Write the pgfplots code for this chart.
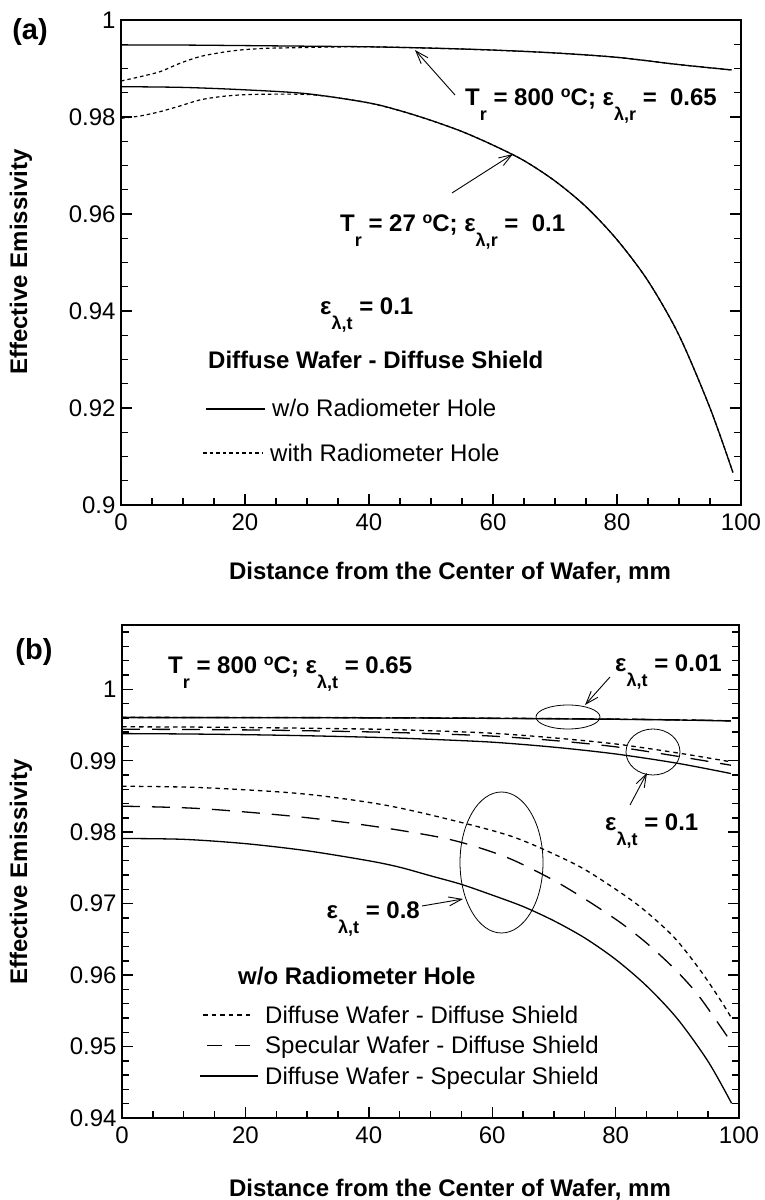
\documentclass[border=0pt]{standalone}
\usepackage{fontspec}
\setmainfont{Liberation Sans}
\usepackage{pgfplots}
\pgfplotsset{compat=1.18}
\usetikzlibrary{arrows.meta}
\newcommand{\sbx}[1]{\raisebox{-15pt}{\fontsize{18}{18}\selectfont #1}}
\newcommand{\dg}{\raisebox{8pt}{\fontsize{16}{16}\selectfont o}}
\pgfplotsset{panel/.style={
  scale only axis, xmin=0, xmax=100,
  xtick={0,20,40,60,80,100}, xticklabels={0,20,40,60,80,100},
  minor x tick num=3, tick align=inside,
  xtick pos=lower, xticklabel pos=lower, ytick pos=both, yticklabel pos=lower,
  major tick length=11pt, minor tick length=7pt,
  axis line style={line width=1.8pt},
  every tick/.style={black, line width=1.4pt},
  tick label style={font=\fontsize{24}{24}\selectfont},
  xticklabel style={yshift=-5pt}, yticklabel style={xshift=-2pt},
  scaled y ticks=false,
  every axis plot/.append style={smooth, tension=0.5},
  }}
\begin{document}
\begin{tikzpicture}
\useasboundingbox (0pt,0pt) rectangle (764pt,1200pt);
% ---------------- panel (a)
\begin{axis}[panel, at={(121pt,695pt)}, anchor=south west, width=620pt, height=485pt,
  ymin=0.9, ymax=1,
  ytick={0.9,0.92,0.94,0.96,0.98,1}, yticklabels={0.9,0.92,0.94,0.96,0.98,1},
  minor y tick num=3]
% T_r = 800 C, w/o hole
\addplot[black, line width=1.3pt] coordinates {
 (0,0.99485) (10,0.99483) (20,0.99472) (30,0.99460) (40,0.99447) (50,0.99420)
 (60,0.99380) (70,0.99320) (80,0.99230) (90,0.99080) (98.5,0.98970)};
% T_r = 800 C, with hole
\addplot[black, line width=1.2pt, dash pattern=on 3.5pt off 3pt] coordinates {
 (0,0.98742) (3.1,0.98831) (6.3,0.98935) (9.5,0.99107) (12.7,0.99244) (16,0.99326)
 (19.2,0.99381) (23.5,0.99416) (28.9,0.99430) (34.2,0.99443) (40,0.99447) (50,0.99420)
 (60,0.99380) (70,0.99320) (80,0.99230) (90,0.99080) (98.5,0.98970)};
% T_r = 27 C, w/o hole
\addplot[black, line width=1.3pt] coordinates {
 (0,0.98625) (10,0.98610) (20,0.98560) (30,0.98480) (40,0.98290) (45,0.98130)
 (50,0.97930) (55,0.97700) (60,0.97420) (65,0.97100) (70,0.96680) (75,0.96150)
 (80,0.95470) (85,0.94620) (90,0.93500) (95,0.92000) (98.7,0.90670)};
% T_r = 27 C, with hole
\addplot[black, line width=1.2pt, dash pattern=on 3.5pt off 3pt] coordinates {
 (0,0.97973) (3.1,0.98021) (6.3,0.98110) (9.5,0.98227) (12.7,0.98351) (16,0.98419)
 (19.2,0.98454) (23.5,0.98470) (30,0.98465) (35,0.98395) (40,0.98290) (45,0.98130)
 (50,0.97930) (55,0.97700) (60,0.97420) (65,0.97100) (70,0.96680) (75,0.96150)
 (80,0.95470) (85,0.94620) (90,0.93500) (95,0.92000) (98.7,0.90670)};
\end{axis}
% annotations (a)
\begin{scope}[font=\fontsize{24}{28}\selectfont]
\node[font=\fontsize{29}{30}\selectfont\bfseries] at (30pt,1168pt) {(a)};
\node[font=\fontsize{24}{28}\selectfont\bfseries, anchor=base] at (450pt,620pt) {Distance from the Center of Wafer, mm};
\node[font=\fontsize{24}{28}\selectfont\bfseries, anchor=base, rotate=90] at (27pt,938pt) {Effective Emissivity};
\node[anchor=base west, inner sep=0pt, font=\fontsize{24}{28}\selectfont\bfseries] at (465pt,1094pt) {T\sbx{r} = 800 \dg C; ε\sbx{λ,r} = \ 0.65};
\node[anchor=base west, inner sep=0pt, font=\fontsize{24}{28}\selectfont\bfseries] at (340pt,968pt) {T\sbx{r} = 27 \dg C; ε\sbx{λ,r} = \ 0.1};
\node[anchor=base west, inner sep=0pt, font=\fontsize{24}{28}\selectfont\bfseries] at (320pt,885pt) {ε\sbx{λ,t} = 0.1};
\node[anchor=base west, inner sep=0pt, font=\fontsize{24}{28}\selectfont\bfseries] at (208pt,831.5pt) {Diffuse Wafer - Diffuse Shield};
\draw[line width=1.2pt] (206pt,791pt) -- (265pt,791pt);
\node[anchor=base west, inner sep=0pt] at (272pt,783.5pt) {w/o Radiometer Hole};
\draw[line width=1.2pt, dash pattern=on 3.5pt off 3pt] (203pt,747pt) -- (263pt,747pt);
\node[anchor=base west, inner sep=0pt] at (270pt,738.5pt) {with Radiometer Hole};
\draw[line width=0.9pt, -{Straight Barb[length=13pt,width=9pt]}] (455pt,1105pt) -- (415pt,1150pt);
\draw[line width=0.9pt, -{Straight Barb[length=13pt,width=9pt]}] (452pt,1007pt) -- (513pt,1046pt);
\end{scope}
% ---------------- panel (b)
\begin{axis}[panel, at={(122pt,82pt)}, anchor=south west, width=617pt, height=493pt,
  ymin=0.94, ymax=1.009,
  ytick={0.94,0.95,0.96,0.97,0.98,0.99,1}, yticklabels={0.94,0.95,0.96,0.97,0.98,0.99,1},
  minor ytick={0.942,0.944,...,1.0085}]
% eps = 0.01
\addplot[black, line width=1.3pt, dash pattern=on 4.5pt off 4pt] coordinates {
 (0,0.99607) (20,0.99606) (40,0.99603) (60,0.99596) (80,0.99583) (90,0.99573) (98.7,0.99560)};
\addplot[black, line width=1.3pt, dash pattern=on 18pt off 12pt] coordinates {
 (0,0.99606) (20,0.99605) (40,0.99602) (60,0.99595) (80,0.99582) (90,0.99572) (98.7,0.99559)};
\addplot[black, line width=1.3pt] coordinates {
 (0,0.99604) (20,0.99603) (40,0.99600) (60,0.99593) (80,0.99580) (90,0.99570) (98.7,0.99557)};
% eps = 0.1
\addplot[black, line width=1.3pt, dash pattern=on 4.5pt off 4pt] coordinates {
 (0,0.99475) (10,0.99472) (20,0.99465) (30,0.99455) (42,0.99440) (50,0.99420)
 (60,0.99385) (70,0.99320) (80,0.99235) (90,0.99110) (98.7,0.98985)};
\addplot[black, line width=1.3pt, dash pattern=on 18pt off 12pt] coordinates {
 (0,0.99441) (10,0.99438) (20,0.99432) (30,0.99420) (42,0.99400) (50,0.99380)
 (60,0.99345) (70,0.99283) (80,0.99195) (90,0.99063) (98.7,0.98937)};
\addplot[black, line width=1.3pt] coordinates {
 (0,0.99380) (10,0.99375) (20,0.99365) (30,0.99350) (42,0.99325) (50,0.99300)
 (60,0.99260) (70,0.99190) (80,0.99095) (90,0.98965) (98.7,0.98821)};
% eps = 0.8
\addplot[black, line width=1.3pt, dash pattern=on 4.5pt off 4pt] coordinates {
 (0,0.98643) (12.6,0.98625) (28.8,0.98541) (41.8,0.98392) (52,0.98200) (63.4,0.97934)
 (73.2,0.97562) (78.6,0.97282) (84,0.96955) (89.4,0.96536) (93.7,0.96070)
 (97,0.95650) (98.8,0.95396)};
\addplot[black, line width=1.3pt, dash pattern=on 18pt off 12pt] coordinates {
 (0,0.98364) (12.6,0.98331) (28.8,0.98214) (41.8,0.98070) (52,0.97920) (58,0.97780)
 (63.4,0.97610) (69.9,0.97330) (75.3,0.97050) (80.7,0.96740) (85,0.96450)
 (89.4,0.96100) (93.2,0.95740) (97,0.95280) (98.8,0.95050)};
\addplot[black, line width=1.3pt] coordinates {
 (0,0.97912) (10,0.97900) (20,0.97840) (30,0.97740) (40,0.97600) (45,0.97510)
 (50,0.97390) (55,0.97270) (60,0.97120) (65,0.96960) (70,0.96760) (75,0.96520)
 (80,0.96220) (85,0.95850) (90,0.95390) (95,0.94790) (98.8,0.94206)};
\end{axis}
% annotations (b)
\begin{scope}[font=\fontsize{24}{28}\selectfont]
\node[font=\fontsize{29}{30}\selectfont\bfseries] at (34pt,548pt) {(b)};
\node[font=\fontsize{24}{28}\selectfont\bfseries, anchor=base] at (450pt,3pt) {Distance from the Center of Wafer, mm};
\node[font=\fontsize{24}{28}\selectfont\bfseries, anchor=base, rotate=90] at (27pt,328pt) {Effective Emissivity};
\node[anchor=base west, inner sep=0pt, font=\fontsize{24}{28}\selectfont\bfseries] at (168pt,526.5pt) {T\sbx{r} = 800 \dg C; ε\sbx{λ,t} = 0.65};
\node[anchor=base west, inner sep=0pt, font=\fontsize{24}{28}\selectfont\bfseries] at (615pt,528.5pt) {ε\sbx{λ,t} = 0.01};
\node[anchor=base west, inner sep=0pt, font=\fontsize{24}{28}\selectfont\bfseries] at (605pt,369.5pt) {ε\sbx{λ,t} = 0.1};
\node[anchor=base east, inner sep=0pt, font=\fontsize{24}{28}\selectfont\bfseries] at (420pt,281.5pt) {ε\sbx{λ,t} = 0.8};
\draw[line width=0.8pt] (568pt,483pt) ellipse [x radius=32pt, y radius=12pt];
\draw[line width=0.8pt] (653pt,448pt) ellipse [x radius=27pt, y radius=23pt];
\draw[line width=0.8pt] (501.5pt,337.5pt) ellipse [x radius=41.5pt, y radius=70.5pt];
\draw[line width=0.9pt, -{Straight Barb[length=13pt,width=9pt]}] (610pt,523pt) -- (585pt,495pt);
\draw[line width=0.9pt, -{Straight Barb[length=13pt,width=9pt]}] (630pt,395pt) -- (647pt,427pt);
\draw[line width=0.9pt, -{Straight Barb[length=13pt,width=9pt]}] (422pt,294pt) -- (463pt,301pt);
\node[anchor=base west, inner sep=0pt, font=\fontsize{24}{28}\selectfont\bfseries] at (238pt,215.4pt) {w/o Radiometer Hole};
\draw[line width=1.2pt, dash pattern=on 4.5pt off 4pt] (203pt,185pt) -- (253pt,185pt);
\node[anchor=base west, inner sep=0pt] at (265pt,176.4pt) {Diffuse Wafer - Diffuse Shield};
\draw[line width=1.2pt, dash pattern=on 15pt off 13pt] (207pt,154.5pt) -- (250pt,154.5pt);
\node[anchor=base west, inner sep=0pt] at (265pt,146pt) {Specular Wafer - Diffuse Shield};
\draw[line width=1.2pt] (200pt,124pt) -- (258pt,124pt);
\node[anchor=base west, inner sep=0pt] at (265pt,115.4pt) {Diffuse Wafer - Specular Shield};
\end{scope}
\end{tikzpicture}
\end{document}
